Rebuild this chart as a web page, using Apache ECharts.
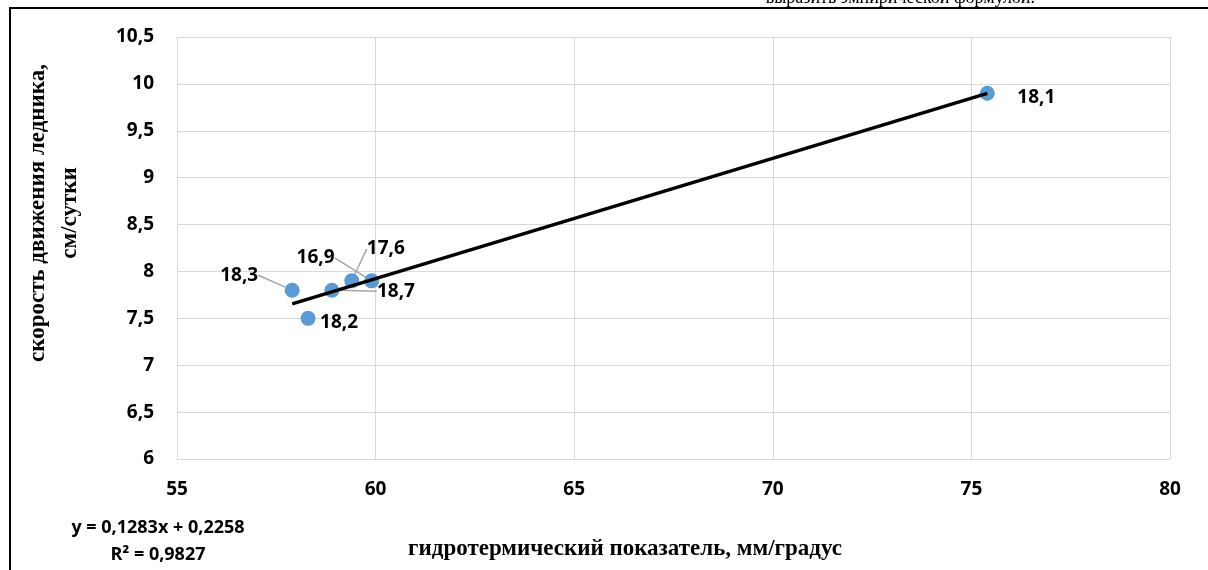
<!DOCTYPE html>
<html>
<head>
<meta charset="utf-8">
<script src="https://cdn.jsdelivr.net/npm/echarts@6/dist/echarts.min.js"></script>
<style>
  html, body { margin: 0; padding: 0; background: #fff; }
  #chart { width: 1208px; height: 570px; }
</style>
</head>
<body>
<div id="chart"></div>
<script>
// гидротермический показатель (x) / скорость движения ледника (y)
var xValues = [57.9, 58.3, 58.9, 59.4, 59.9, 75.4]
var yValues = [7.8, 7.5, 7.8, 7.9, 7.9, 9.9]
var pointLabels = ['18,3', '18,2', '18,7', '17,6', '16,9', '18,1']
var xTicks = [55, 60, 65, 70, 75, 80]
var yTicks = [6, 6.5, 7, 7.5, 8, 8.5, 9, 9.5, 10, 10.5]
// linear trend as printed on the chart
var trendSlope = 0.1283
var trendIntercept = 0.2258
var trendR2 = '0,9827'

var labelFont = '"Open Sans", sans-serif'
var titleFont = '"Liberation Serif", serif'
var gridColor = '#d9d9d9'

// where each point label sits relative to its marker (dx, dy) and whether it gets a leader line
var labelShift = [
  { dx: -53, dy: -15, line: true },
  { dx: 31, dy: 4, line: false },
  { dx: 64, dy: 1, line: true },
  { dx: 34, dy: -32, line: true },
  { dx: -56, dy: -23, line: true },
  { dx: 49, dy: 4, line: false }
]

function comma(v) {
  return String(v).replace('.', ',')
}

var points = xValues.map(function (x, i) {
  return {
    value: [x, yValues[i]],
    name: pointLabels[i],
    labelLine: { show: labelShift[i].line }
  }
})

var xMinData = Math.min.apply(null, xValues)
var xMaxData = Math.max.apply(null, xValues)
var trendData = [
  [xMinData, trendSlope * xMinData + trendIntercept],
  [xMaxData, trendSlope * xMaxData + trendIntercept]
]

var chart = echarts.init(document.getElementById('chart'))

chart.setOption({
  animation: false,
  backgroundColor: '#fff',
  grid: {
    left: 177,
    right: 38,
    top: 37,
    bottom: 111
  },
  xAxis: {
    type: 'value',
    min: xTicks[0],
    max: xTicks[xTicks.length - 1],
    interval: xTicks[1] - xTicks[0],
    axisLine: { show: true, lineStyle: { color: gridColor, width: 1 } },
    axisTick: { show: false },
    splitLine: { show: true, lineStyle: { color: gridColor, width: 1 } },
    axisLabel: {
      margin: 21,
      color: '#000',
      fontFamily: labelFont,
      fontWeight: 'bold',
      fontSize: 19
    }
  },
  yAxis: {
    type: 'value',
    min: yTicks[0],
    max: yTicks[yTicks.length - 1],
    interval: yTicks[1] - yTicks[0],
    axisLine: { show: true, lineStyle: { color: gridColor, width: 1 } },
    axisTick: { show: false },
    splitLine: { show: true, lineStyle: { color: gridColor, width: 1 } },
    axisLabel: {
      margin: 23,
      color: '#000',
      fontFamily: labelFont,
      fontWeight: 'bold',
      fontSize: 19,
      formatter: function (v) {
        return comma(v)
      }
    }
  },
  series: [
    {
      type: 'scatter',
      symbol: 'circle',
      symbolSize: 15,
      z: 2,
      itemStyle: { color: '#5b9bd5', opacity: 1 },
      label: {
        show: true,
        position: 'inside',
        formatter: '{b}',
        color: '#000',
        fontFamily: labelFont,
        fontWeight: 'bold',
        fontSize: 19
      },
      labelLine: {
        show: false,
        lineStyle: { color: '#a6a6a6', width: 1.5 }
      },
      labelLayout: function (params) {
        var s = labelShift[params.dataIndex]
        return { dx: s.dx, dy: s.dy }
      },
      data: points
    },
    {
      type: 'line',
      showSymbol: false,
      symbol: 'none',
      z: 3,
      lineStyle: { color: '#000', width: 3.5 },
      silent: true,
      data: trendData
    }
  ],
  graphic: [
    {
      type: 'polyline',
      shape: { points: [[10, 570], [10, 8], [1208, 8]] },
      style: { stroke: '#000', lineWidth: 2, fill: null }
    },
    {
      type: 'text',
      x: 1035,
      y: 7,
      style: {
        text: 'выразить эмпирической формулой.',
        fill: '#000',
        font: '18px ' + titleFont,
        align: 'right',
        verticalAlign: 'bottom'
      }
    },
    {
      type: 'text',
      x: 54,
      y: 213,
      rotation: Math.PI / 2,
      style: {
        text: 'скорость движения ледника,\nсм/сутки',
        fill: '#000',
        font: 'bold 23px ' + titleFont,
        lineHeight: 32,
        align: 'center',
        verticalAlign: 'middle'
      }
    },
    {
      type: 'text',
      x: 625,
      y: 549,
      style: {
        text: 'гидротермический показатель, мм/градус',
        fill: '#000',
        font: 'bold 23px ' + titleFont,
        align: 'center',
        verticalAlign: 'middle'
      }
    },
    {
      type: 'text',
      x: 158,
      y: 528,
      style: {
        text: 'y = ' + comma(trendSlope) + 'x + ' + comma(trendIntercept),
        fill: '#000',
        font: 'bold 18px ' + labelFont,
        align: 'center',
        verticalAlign: 'middle'
      }
    },
    {
      type: 'text',
      x: 158,
      y: 555,
      style: {
        text: 'R² = ' + trendR2,
        fill: '#000',
        font: 'bold 18px ' + labelFont,
        align: 'center',
        verticalAlign: 'middle'
      }
    }
  ]
})
</script>
</body>
</html>
